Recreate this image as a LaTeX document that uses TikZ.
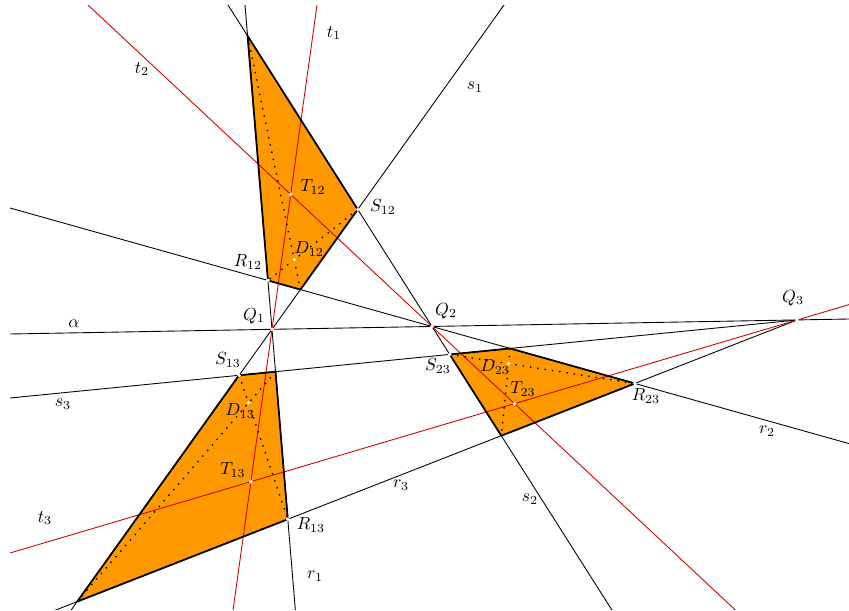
\documentclass[tikz,border=0pt]{standalone}
\usetikzlibrary{calc}
\definecolor{quadfill}{RGB}{255,153,0}
\definecolor{tred}{RGB}{210,0,0}

\begin{document}
\begin{tikzpicture}[
    x=0.2mm, y=-0.2mm,
    line/.style={black, line width=0.5pt},
    tline/.style={tred, line width=0.5pt},
    quad/.style={fill=quadfill, draw=black, line width=1pt, line join=round},
    diag/.style={line width=0.8pt, dash pattern=on 0.8pt off 3.4pt},
    lbl/.style={font=\normalsize, inner sep=0pt}
]
\useasboundingbox (0,0) rectangle (849,611);

% alpha and the three points on it
\coordinate (a1) at (10,334);
\coordinate (a2) at (849,319);
\coordinate (Q1) at (272,329.3);
\coordinate (Q2) at (432,326.5);
\coordinate (Q3) at (797,320);

% second point of each line
\coordinate (s1e) at (504,5);
\coordinate (s2e) at (228,5);
\coordinate (s3e) at (10,398);
\coordinate (r1e) at (245,5);
\coordinate (r2e) at (10,208);
\coordinate (r3e) at (77,601.7);
\coordinate (t1e) at (317,5);
\coordinate (t2e) at (88,5);
\coordinate (t3e) at (10,553);

\coordinate (S12) at (intersection of Q1--s1e and Q2--s2e);
\coordinate (S13) at (intersection of Q1--s1e and Q3--s3e);
\coordinate (S23) at (intersection of Q2--s2e and Q3--s3e);
\coordinate (R12) at (intersection of Q1--r1e and Q2--r2e);
\coordinate (R13) at (intersection of Q1--r1e and Q3--r3e);
\coordinate (R23) at (intersection of Q2--r2e and Q3--r3e);
\coordinate (T12) at (intersection of Q1--t1e and Q2--t2e);
\coordinate (T13) at (intersection of Q1--t1e and Q3--t3e);
\coordinate (T23) at (intersection of Q2--t2e and Q3--t3e);

\coordinate (A12) at (intersection of Q2--s2e and Q1--r1e);
\coordinate (B12) at (intersection of Q1--s1e and Q2--r2e);
\coordinate (A13) at (intersection of Q3--s3e and Q1--r1e);
\coordinate (B13) at (intersection of Q1--s1e and Q3--r3e);
\coordinate (A23) at (intersection of Q3--s3e and Q2--r2e);
\coordinate (B23) at (intersection of Q2--s2e and Q3--r3e);

\coordinate (D12) at (intersection of A12--B12 and S12--R12);
\coordinate (D13) at (intersection of A13--B13 and S13--R13);
\coordinate (D23) at (intersection of A23--B23 and S23--R23);

% quadrilaterals
\fill[quadfill] (A12) -- (S12) -- (B12) -- (R12) -- cycle;
\fill[quadfill] (S13) -- (A13) -- (R13) -- (B13) -- cycle;
\fill[quadfill] (S23) -- (A23) -- (R23) -- (B23) -- cycle;

\begin{scope}
\clip (10,5) rectangle (849,609);
\draw[line] (a1) -- (a2);
\draw[line] ($(Q1)!-2!(s1e)$) -- ($(Q1)!2!(s1e)$);
\draw[line] ($(Q2)!-2!(s2e)$) -- ($(Q2)!2!(s2e)$);
\draw[line] (Q3) -- ($(Q3)!2!(s3e)$);
\draw[line] ($(Q1)!-2!(r1e)$) -- ($(Q1)!2!(r1e)$);
\draw[line] ($(Q2)!-2!(r2e)$) -- ($(Q2)!2!(r2e)$);
\draw[line] (Q3) -- ($(Q3)!2!(r3e)$);
\draw[tline] ($(Q1)!-2!(t1e)$) -- ($(Q1)!2!(t1e)$);
\draw[tline] ($(Q2)!-2!(t2e)$) -- ($(Q2)!2!(t2e)$);
\draw[tline] ($(Q3)!-2!(t3e)$) -- ($(Q3)!2!(t3e)$);
\end{scope}

\draw[quad, fill=none] (A12) -- (S12) -- (B12) -- (R12) -- cycle;
\draw[quad, fill=none] (S13) -- (A13) -- (R13) -- (B13) -- cycle;
\draw[quad, fill=none] (S23) -- (A23) -- (R23) -- (B23) -- cycle;

% diagonals
\draw[diag] (A12) -- (B12);
\draw[diag] (S12) -- (R12);
\draw[diag] (A13) -- (B13);
\draw[diag] (S13) -- (R13);
\draw[diag] (A23) -- (B23);
\draw[diag] (S23) -- (R23);

\foreach \p in {Q1,Q2,Q3,S12,S13,S23,R12,R13,R23,T12,T13,T23,D12,D13,D23}
  \fill[white] (\p) circle (1.1pt);

% line labels
\node[lbl] (lalpha) at (74,324) {$\alpha$};
\node[lbl] (ls1) at (475,87) {$s_1$};
\node[lbl] (ls2) at (530,499) {$s_2$};
\node[lbl] (ls3) at (63,404) {$s_3$};
\node[lbl] (lr1) at (315,576) {$r_1$};
\node[lbl] (lr2) at (767,431) {$r_2$};
\node[lbl] (lr3) at (401,485) {$r_3$};
\node[lbl] (lt1) at (334,33) {$t_1$};
\node[lbl] (lt2) at (142,69) {$t_2$};
\node[lbl] (lt3) at (45,518) {$t_3$};

% point labels
\node[lbl] (lQ1) at (254,316) {$Q_1$};
\node[lbl] (lQ2) at (446,311) {$Q_2$};
\node[lbl] (lQ3) at (793,298) {$Q_3$};
\node[lbl] (lS12) at (383,207) {$S_{12}$};
\node[lbl] (lS13) at (228,360) {$S_{13}$};
\node[lbl] (lS23) at (438,366) {$S_{23}$};
\node[lbl] (lR12) at (248,262) {$R_{12}$};
\node[lbl] (lR13) at (311,525) {$R_{13}$};
\node[lbl] (lR23) at (646,396) {$R_{23}$};
\node[lbl] (lT12) at (313,187) {$T_{12}$};
\node[lbl] (lT13) at (233,470) {$T_{13}$};
\node[lbl] (lT23) at (523,389) {$T_{23}$};
\node[lbl] (lD12) at (309,249) {$D_{12}$};
\node[lbl] (lD13) at (240,411) {$D_{13}$};
\node[lbl] (lD23) at (495,367) {$D_{23}$};
\end{tikzpicture}
\end{document}
